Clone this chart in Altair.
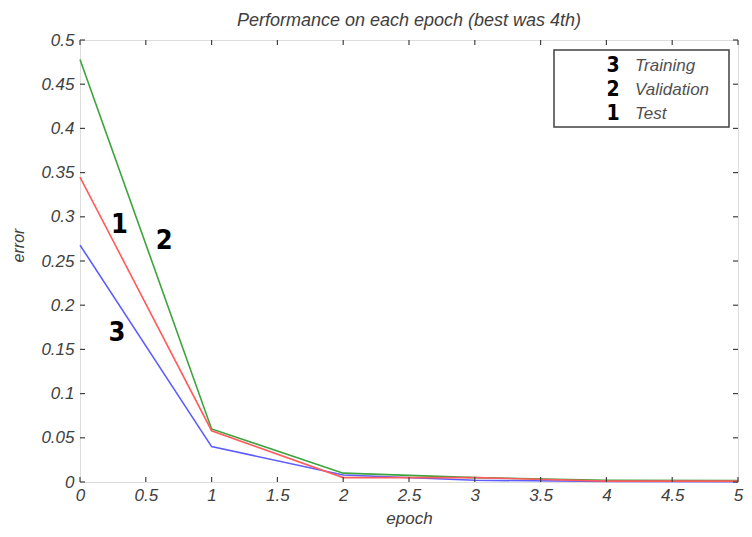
import altair as alt
import pandas as pd

# ---- data ----
EPOCHS = [0, 1, 2, 3, 4, 5]
TRAINING = [0.268, 0.040, 0.008, 0.002, 0.0005, 0.0003]
VALIDATION = [0.478, 0.060, 0.010, 0.005, 0.002, 0.0015]
TEST = [0.345, 0.058, 0.005, 0.005, 0.001, 0.001]
SERIES = ["Training", "Validation", "Test"]
COLORS = ["#5c5cff", "#3da33d", "#ff5c5c"]
LEGEND_NUMS = ["3", "2", "1"]

ANNOT_TEXT = ["1", "2", "3"]
ANNOT_X = [0.30, 0.64, 0.28]
ANNOT_Y = [0.291, 0.273, 0.169]

X_TICKS = [0, 0.5, 1, 1.5, 2, 2.5, 3, 3.5, 4, 4.5, 5]
Y_TICKS = [0, 0.05, 0.1, 0.15, 0.2, 0.25, 0.3, 0.35, 0.4, 0.45, 0.5]

TITLE = "Performance on each epoch (best was 4th)"
X_TITLE = "epoch"
Y_TITLE = "error"

W, H = 658, 442
FONT = "Liberation Sans"
NARROW = "DejaVu Sans Condensed, Liberation Sans Narrow, Liberation Sans, sans-serif"
GRAY = "#404040"

rows = []
for name, vals in [("Validation", VALIDATION), ("Training", TRAINING), ("Test", TEST)]:
    for e, v in zip(EPOCHS, vals):
        rows.append({"epoch": e, "error": v, "series": name})
df = pd.DataFrame(rows)

xscale = alt.Scale(domain=[0, 5], nice=False, zero=False)
yscale = alt.Scale(domain=[0, 0.5], nice=False, zero=False)

lines = alt.Chart(df).mark_line(strokeWidth=1.6).encode(
    x=alt.X("epoch:Q", scale=xscale, axis=alt.Axis(
        values=X_TICKS, format="~g", title=X_TITLE, grid=False, domain=False,
        ticks=False, tickSize=0, labelPadding=5, labelFlush=False, labelOverlap=False,
        labelFont=FONT, labelFontSize=17, labelFontStyle="italic", labelColor=GRAY,
        titleFont=FONT, titleFontSize=17, titleFontStyle="italic", titleFontWeight="normal",
        titleColor=GRAY, titleY=36, titleBaseline="middle")),
    y=alt.Y("error:Q", scale=yscale, axis=alt.Axis(
        values=Y_TICKS, format="~g", title=Y_TITLE, grid=False, domain=False,
        ticks=False, tickSize=0, labelPadding=6, labelFlush=False, labelOverlap=False,
        labelFont=FONT, labelFontSize=17, labelFontStyle="italic", labelColor=GRAY,
        titleFont=FONT, titleFontSize=16, titleFontStyle="italic", titleFontWeight="normal",
        titleColor=GRAY, titleX=-62, titleY=205, titleAlign="center", titleBaseline="middle")),
    color=alt.Color("series:N", scale=alt.Scale(domain=SERIES, range=COLORS), legend=None),
    detail="series:N",
)

dfx = pd.DataFrame({"v": X_TICKS})
dfy = pd.DataFrame({"v": Y_TICKS})
tick_style = dict(color=GRAY, strokeWidth=1.2)
xt_bottom = alt.Chart(dfx).mark_rule(**tick_style).encode(
    x=alt.X("v:Q", scale=xscale), y=alt.value(H), y2=alt.value(H - 5))
xt_top = alt.Chart(dfx).mark_rule(**tick_style).encode(
    x=alt.X("v:Q", scale=xscale), y=alt.value(0), y2=alt.value(5))
yt_left = alt.Chart(dfy).mark_rule(**tick_style).encode(
    y=alt.Y("v:Q", scale=yscale), x=alt.value(0), x2=alt.value(5))
yt_right = alt.Chart(dfy).mark_rule(**tick_style).encode(
    y=alt.Y("v:Q", scale=yscale), x=alt.value(W), x2=alt.value(W - 5))

dfa = pd.DataFrame({"t": ANNOT_TEXT, "x": ANNOT_X, "y": ANNOT_Y})
annots = alt.Chart(dfa).mark_text(
    font=NARROW, fontSize=27, fontWeight="bold", color="black",
    align="center", baseline="middle").encode(
    x=alt.X("x:Q", scale=xscale), y=alt.Y("y:Q", scale=yscale), text="t:N")

# legend box
box = alt.Chart(pd.DataFrame({"a": [0]})).mark_rect(
    fill="white", stroke=GRAY, strokeWidth=1.5).encode(
    x=alt.value(W - 184), x2=alt.value(W - 9), y=alt.value(10), y2=alt.value(87))

dfl = pd.DataFrame({"name": SERIES, "num": LEGEND_NUMS})
leg_layers = []
for i, name in enumerate(SERIES):
    base = alt.Chart(dfl).transform_filter(alt.datum.name == name)
    leg_layers.append(base.mark_text(
        font=NARROW, fontSize=21, fontWeight="bold", color="black",
        align="center", baseline="middle").encode(
        x=alt.value(W - 125), y=alt.value(26 + 24 * i), text="num:N"))
    leg_layers.append(base.mark_text(
        font=FONT, fontSize=17, fontStyle="italic", color="#505050",
        align="left", baseline="middle").encode(
        x=alt.value(W - 103), y=alt.value(26 + 24 * i), text="name:N"))

chart = alt.layer(
    lines, xt_bottom, xt_top, yt_left, yt_right, annots, box, *leg_layers
).properties(
    width=W, height=H,
    title=alt.TitleParams(TITLE, font=FONT, fontSize=18, fontStyle="italic",
                          fontWeight="normal", color=GRAY, offset=1),
    autosize=alt.AutoSizeParams(type="none"),
    padding={"left": 72, "top": 32, "right": 6, "bottom": 47},
).configure_view(stroke=GRAY, strokeWidth=1.5).configure(background="white")

chart.save("out.html", embed_options={"renderer": "svg", "actions": False})
